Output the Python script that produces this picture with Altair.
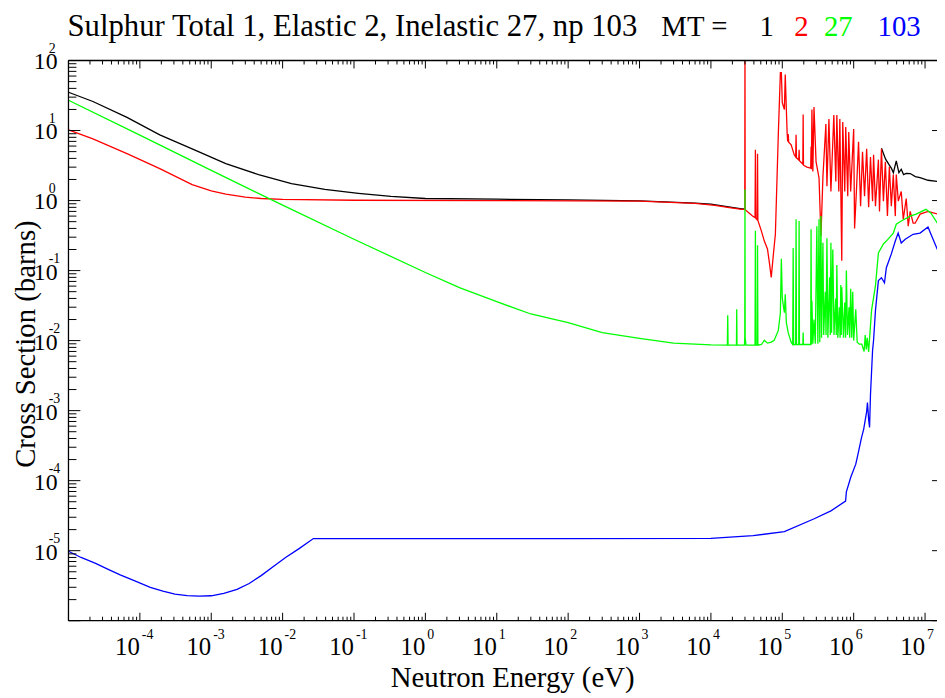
import altair as alt
import pandas as pd

# ---------------- data (energy in eV, cross section in barns) ----------------
total_low = [(1e-5, 35.2), (2.2e-5, 26.0), (6.6e-5, 15.4), (1.9e-4, 8.67), (5.4e-4, 5.48),
             (1.6e-3, 3.36), (4.6e-3, 2.35), (1.33e-2, 1.75), (3.9e-2, 1.44), (1.15e-1, 1.27),
             (3.3e-1, 1.15), (1.0, 1.07), (1e1, 1.045), (1e2, 1.025), (1e3, 0.99), (6e3, 0.92),
             (1e4, 0.89), (2.7e4, 0.76), (2.95e4, 0.76)]
total_high = [(2.45e6, 5.6), (2.8e6, 3.9), (3.16e6, 3.2), (3.37e6, 2.9), (3.6e6, 2.5),
              (3.95e6, 3.7), (4.3e6, 2.5), (4.64e6, 2.8), (5.0e6, 2.35), (5.45e6, 2.45),
              (6.2e6, 2.43), (7.3e6, 2.2), (8.5e6, 2.13), (1.1e7, 1.95), (1.5e7, 1.87), (2e7, 1.8)]

elastic = [(1e-5, 10.2), (2.2e-5, 7.6), (6.6e-5, 4.67), (1.9e-4, 2.86), (5.4e-4, 1.69),
           (1.0e-3, 1.38), (1.6e-3, 1.24), (3.0e-3, 1.12), (5.0e-3, 1.07), (1e-2, 1.04),
           (1e-1, 1.01), (1e1, 1.0), (1e3, 0.98),
           (6e3, 0.91), (1.14e4, 0.855), (1.72e4, 0.80), (2.7e4, 0.75), (2.98e4, 0.75),
           (3.0e4, 200), (3.02e4, 0.74), (3.83e4, 0.60), (4.15e4, 0.57), (4.2e4, 5.3),
           (4.25e4, 0.56), (4.45e4, 0.53), (4.5e4, 4.67), (4.55e4, 0.52), (5.1e4, 0.366),
           (5.6e4, 0.264), (6.2e4, 0.204), (6.6e4, 0.129), (7.0e4, 0.08), (7.5e4, 0.17),
           (8.0e4, 0.33), (8.26e4, 1.0), (8.8e4, 9.0), (9.4e4, 67), (9.7e4, 67), (1.0e5, 25),
           (1.07e5, 20), (1.10e5, 63), (1.14e5, 20), (1.17e5, 9.0), (1.19e5, 7.0), (1.21e5, 8.9),
           (1.23e5, 6.8), (1.33e5, 6.25), (1.47e5, 4.5), (1.54e5, 4.2), (1.56e5, 8.7),
           (1.58e5, 4.1), (1.70e5, 3.8), (1.72e5, 5.3), (1.74e5, 3.7), (1.94e5, 3.3),
           (1.96e5, 17), (1.98e5, 3.2), (2.22e5, 3.0), (2.5e5, 2.9), (2.53e5, 5.9), (2.56e5, 2.8),
           (2.6e5, 20), (2.68e5, 2.6), (2.78e5, 21.6), (2.97e5, 3.6), (3.27e5, 2.1), (3.48e5, 0.31),
           (3.71e5, 2.2), (4.08e5, 12.4), (4.22e5, 1.6), (4.5e5, 14.6), (4.8e5, 1.35),
           (5.27e5, 16.6), (5.62e5, 1.87), (5.81e5, 16.6), (6.19e5, 1.35), (6.4e5, 14.6),
           (6.81e5, 0.138), (7.03e5, 13.2), (7.5e5, 1.35), (7.74e5, 11.2), (8.26e5, 1.15),
           (8.53e5, 9.55), (9.08e5, 1.35), (1.0e6, 10.5), (1.03e6, 0.40), (1.10e6, 1.59),
           (1.17e6, 6.9), (1.25e6, 0.83), (1.33e6, 4.97), (1.42e6, 1.15), (1.52e6, 5.48),
           (1.62e6, 0.8), (1.72e6, 4.2), (1.84e6, 0.98), (1.90e6, 4.5), (2.02e6, 0.83),
           (2.22e6, 3.84), (2.30e6, 0.70), (2.45e6, 5.48), (2.61e6, 0.98), (2.78e6, 3.59),
           (2.97e6, 0.60), (3.16e6, 3.05), (3.37e6, 0.83), (3.59e6, 2.35), (3.83e6, 0.60),
           (3.95e6, 2.35), (4.22e6, 0.98), (4.64e6, 1.35), (4.95e6, 0.54), (5.45e6, 1.07),
           (5.81e6, 0.43), (6.19e6, 0.70), (6.81e6, 0.475), (7.26e6, 0.475), (8.53e6, 0.64),
           (1.10e7, 0.70), (1.52e7, 0.64), (2.0e7, 0.62)]

absorption = [(1e-5, 27.1), (1e-4, 8.6), (1e-3, 2.7), (1e-2, 0.86), (1e-1, 0.28), (1.0, 0.094),
              (3.0, 0.057), (1e1, 0.036), (3e1, 0.024), (1e2, 0.018), (3e2, 0.013), (1e3, 0.0108),
              (3e3, 0.0092), (1e4, 0.0087),
              (1.70e4, 0.0086), (1.72e4, 0.023), (1.74e4, 0.0086), (2.28e4, 0.0086), (2.3e4, 0.028),
              (2.32e4, 0.0086), (2.95e4, 0.0086), (2.98e4, 0.011), (3.0e4, 1.44), (3.02e4, 0.011),
              (3.1e4, 0.0086), (4.15e4, 0.0086), (4.2e4, 0.37), (4.25e4, 0.0086), (4.45e4, 0.0086),
              (4.5e4, 0.23), (4.55e4, 0.0086), (5.1e4, 0.0088), (5.6e4, 0.0101), (6.2e4, 0.0092),
              (7.0e4, 0.0095), (7.7e4, 0.0101), (8.8e4, 0.014), (9.4e4, 0.025), (9.7e4, 0.147),
              (1.0e5, 0.04), (1.07e5, 0.025), (1.10e5, 0.046), (1.14e5, 0.018), (1.21e5, 0.013),
              (1.33e5, 0.0095), (1.40e5, 0.0088), (1.42e5, 0.21), (1.44e5, 0.0088), (1.54e5, 0.0088),
              (1.56e5, 0.54), (1.58e5, 0.0088), (1.70e5, 0.0088), (1.72e5, 0.51), (1.74e5, 0.0088),
              (1.94e5, 0.0088), (1.96e5, 0.013), (1.98e5, 0.0088), (2.5e5, 0.0088), (2.53e5, 0.39),
              (2.56e5, 0.0088), (2.6e5, 0.037), (2.68e5, 0.009), (2.78e5, 0.02), (2.9e5, 0.009),
              (3.05e5, 0.43), (3.15e5, 0.009), (3.27e5, 0.54), (3.35e5, 0.0095), (3.48e5, 0.6),
              (3.55e5, 0.011), (3.71e5, 0.25), (3.8e5, 0.012), (4.0e5, 0.05), (4.1e5, 0.012),
              (4.22e5, 0.29), (4.35e5, 0.011), (4.6e5, 0.08), (4.7e5, 0.012), (4.8e5, 0.25),
              (4.9e5, 0.013), (5.1e5, 0.2), (5.3e5, 0.012), (5.6e5, 0.04), (5.7e5, 0.012),
              (5.81e5, 0.12), (6.0e5, 0.011), (6.3e5, 0.03), (6.45e5, 0.011), (6.6e5, 0.062),
              (6.7e5, 0.012), (6.81e5, 0.058), (7.2e5, 0.011), (7.5e5, 0.035), (7.7e5, 0.011),
              (7.9e5, 0.10), (8.2e5, 0.012), (8.6e5, 0.03), (8.8e5, 0.011), (9.08e5, 0.055),
              (9.4e5, 0.011), (9.7e5, 0.05), (1.0e6, 0.01), (1.07e6, 0.028), (1.12e6, 0.0095),
              (1.2e6, 0.0089), (1.3e6, 0.0089), (1.4e6, 0.007), (1.45e6, 0.012), (1.5e6, 0.0075),
              (1.55e6, 0.011), (1.62e6, 0.0069), (1.78e6, 0.027), (2.02e6, 0.061), (2.22e6, 0.179),
              (2.61e6, 0.24), (2.87e6, 0.264), (3.59e6, 0.343), (3.95e6, 0.46), (4.64e6, 0.51),
              (6.19e6, 0.60), (7.5e6, 0.64), (1.03e7, 0.75), (1.21e7, 0.66), (1.52e7, 0.46),
              (2.0e7, 0.35)]

np103 = [(1e-5, 9.8e-6), (1.5e-5, 8.0e-6), (2.4e-5, 6.6e-6), (3.6e-5, 5.4e-6), (5.3e-5, 4.5e-6),
         (8.5e-5, 3.7e-6), (1.4e-4, 3.0e-6), (2.1e-4, 2.65e-6), (3.1e-4, 2.4e-6), (4.6e-4, 2.28e-6),
         (6.8e-4, 2.24e-6), (1.0e-3, 2.27e-6), (1.5e-3, 2.45e-6), (2.3e-3, 2.8e-6), (3.4e-3, 3.4e-6),
         (5.0e-3, 4.4e-6), (7.5e-3, 6.0e-6), (1.1e-2, 8.0e-6), (1.7e-2, 1.07e-5),
         (2.7e-2, 1.49e-5), (1.0, 1.49e-5), (1e2, 1.49e-5), (1e4, 1.5e-5), (3.9e4, 1.64e-5),
         (1.07e5, 1.87e-5), (2.8e5, 2.86e-5), (4.8e5, 3.7e-5), (7.7e5, 5.1e-5), (7.9e5, 6.9e-5),
         (9.1e5, 1.12e-4), (1.07e6, 1.72e-4), (1.17e6, 2.6e-4), (1.29e6, 4.15e-4), (1.38e6, 5.4e-4),
         (1.52e6, 9.7e-4), (1.56e6, 1.3e-3), (1.62e6, 7.5e-4), (1.67e6, 5.75e-4), (1.72e6, 1.7e-3),
         (1.84e6, 7.3e-3), (1.9e6, 0.0101), (2.02e6, 0.027), (2.22e6, 0.072), (2.45e6, 0.079),
         (2.7e6, 0.067), (2.87e6, 0.11), (3.37e6, 0.173), (3.83e6, 0.264), (4.2e6, 0.343),
         (4.64e6, 0.248), (5.27e6, 0.28), (6.8e6, 0.33), (8.5e6, 0.343), (1.1e7, 0.42),
         (1.21e7, 0.33), (1.52e7, 0.19), (2.0e7, 0.15)]

title_main = "Sulphur Total 1, Elastic 2, Inelastic 27, np 103"
title_mt = "MT ="
legend_labels = ["1", "2", "27", "103"]
legend_x = [697, 732, 762, 816]
line_colors = ["#000000", "#ff0000", "#00ff00", "#0000ff"]

x_decades = list(range(-5, 8))
y_decades = list(range(-6, 3))
x_label_decades = list(range(-4, 8))
y_label_decades = list(range(-5, 3))

# ---------------- layout ----------------
W, H = 876, 565
XMIN, XMAX = 1e-5, 1.47e7
YMIN, YMAX = 1e-6, 1e2
FONT = "Liberation Serif"

xs = alt.Scale(type="log", domain=[XMIN, XMAX], nice=False)
ys = alt.Scale(type="log", domain=[YMIN, YMAX], nice=False)


def df_of(pairs, seg=0):
    return pd.DataFrame({"E": [p[0] for p in pairs], "S": [p[1] for p in pairs], "seg": seg})


def curve(df, color):
    return alt.Chart(df).mark_line(color=color, strokeWidth=1.3, clip=True).encode(
        x=alt.X("E:Q", scale=xs, axis=None),
        y=alt.Y("S:Q", scale=ys, axis=None),
        detail="seg:N",
    )


black_df = pd.concat([df_of(total_low, 0), df_of(total_high, 1)])
layers = [
    curve(black_df, line_colors[0]),
    curve(df_of(elastic), line_colors[1]),
    curve(df_of(absorption), line_colors[2]),
    curve(df_of(np103), line_colors[3]),
]

# ticks
xmaj = [10.0 ** d for d in x_decades if XMIN <= 10.0 ** d <= XMAX]
xmin_ = [k * 10.0 ** d for d in x_decades for k in range(2, 10) if k * 10.0 ** d <= XMAX]
ymaj = [10.0 ** d for d in y_decades]
ymin_ = [k * 10.0 ** d for d in y_decades[:-1] for k in range(2, 10)]


def xticks(vals, y0, y1):
    return alt.Chart(pd.DataFrame({"t": vals})).mark_rule(color="black", strokeWidth=1).encode(
        x=alt.X("t:Q", scale=xs, axis=None), y=alt.value(y0), y2=alt.value(y1))


def yticks(vals, x0, x1):
    return alt.Chart(pd.DataFrame({"t": vals})).mark_rule(color="black", strokeWidth=1).encode(
        y=alt.Y("t:Q", scale=ys, axis=None), x=alt.value(x0), x2=alt.value(x1))


layers += [
    xticks(xmaj, H, H - 8), xticks(xmin_, H, H - 4),
    xticks(xmaj, 0, 8), xticks(xmin_, 0, 4),
    yticks(ymaj, 0, 12), yticks(ymin_, 0, 8),
    yticks(ymaj, W - 5, W),
]

one = pd.DataFrame({"a": [0]})
layers += [
    alt.Chart(one).mark_rule(color="black", strokeWidth=1.3).encode(x=alt.value(0), y=alt.value(0), y2=alt.value(H)),
    alt.Chart(one).mark_rule(color="black", strokeWidth=1.3).encode(x=alt.value(0), x2=alt.value(W), y=alt.value(0)),
    alt.Chart(one).mark_rule(color="black", strokeWidth=1.3).encode(x=alt.value(0), x2=alt.value(W), y=alt.value(H)),
]

# tick labels: "10" plus superscript exponent
xl = pd.DataFrame({"t": [10.0 ** d for d in x_label_decades], "e": [str(d) for d in x_label_decades]})
yl = pd.DataFrame({"t": [10.0 ** d for d in y_label_decades], "e": [str(d) for d in y_label_decades]})

layers += [
    alt.Chart(xl).mark_text(font=FONT, fontSize=25, align="right", baseline="alphabetic", color="black").encode(
        x=alt.X("t:Q", scale=xs, axis=None), y=alt.value(H + 35), text=alt.value("10")),
    alt.Chart(xl).mark_text(font=FONT, fontSize=14, align="left", baseline="alphabetic", dx=2, color="black").encode(
        x=alt.X("t:Q", scale=xs, axis=None), y=alt.value(H + 18), text="e:N"),
    alt.Chart(yl).mark_text(font=FONT, fontSize=24, align="right", baseline="alphabetic", dy=9, color="black").encode(
        y=alt.Y("t:Q", scale=ys, axis=None), x=alt.value(-11), text=alt.value("10")),
    alt.Chart(yl).mark_text(font=FONT, fontSize=14, align="left", baseline="alphabetic", dy=-8, color="black").encode(
        y=alt.Y("t:Q", scale=ys, axis=None), x=alt.value(-20), text="e:N"),
]

# titles
layers += [
    alt.Chart(one).mark_text(font=FONT, fontSize=29, align="center", baseline="alphabetic", color="black").encode(
        x=alt.value(448), y=alt.value(H + 67), text=alt.value("Neutron Energy (eV)")),
    alt.Chart(one).mark_text(font=FONT, fontSize=29, align="center", baseline="alphabetic", angle=270,
                             color="black").encode(
        x=alt.value(-34), y=alt.value(286), text=alt.value("Cross Section (barns)")),
    alt.Chart(one).mark_text(font=FONT, fontSize=31, align="left", baseline="alphabetic", color="black").encode(
        x=alt.value(-1), y=alt.value(-25), text=alt.value(title_main)),
    alt.Chart(one).mark_text(font=FONT, fontSize=29, align="left", baseline="alphabetic", color="black").encode(
        x=alt.value(598), y=alt.value(-25), text=alt.value(title_mt)),
]
for lab, col, px in zip(legend_labels, line_colors, legend_x):
    layers.append(alt.Chart(one).mark_text(font=FONT, fontSize=29, align="left", baseline="alphabetic",
                                           color=col).encode(x=alt.value(px), y=alt.value(-25), text=alt.value(lab)))

chart = alt.layer(*layers).properties(
    width=W, height=H,
    autosize=alt.AutoSizeParams(type="none"),
    padding={"left": 61, "top": 50, "right": 0, "bottom": 75},
    background="white",
).configure_view(strokeWidth=0)

chart.save("out.html", embed_options={"renderer": "svg", "actions": False})
